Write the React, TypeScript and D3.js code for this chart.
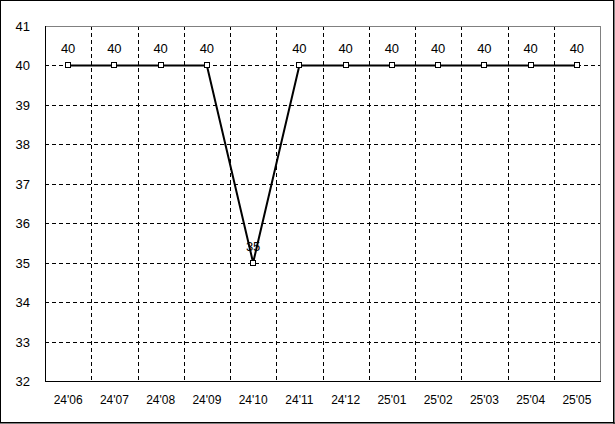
import React from "react";
import * as d3 from "d3";

const categories = ["24'06", "24'07", "24'08", "24'09", "24'10", "24'11", "24'12", "25'01", "25'02", "25'03", "25'04", "25'05"];
const values = [40, 40, 40, 40, 35, 40, 40, 40, 40, 40, 40, 40];
const yTicks = [32, 33, 34, 35, 36, 37, 38, 39, 40, 41];

const W = 615;
const H = 424;
const left = 45, right = 600, top = 26, bottom = 381;
const font = "'Liberation Sans', Arial, sans-serif";

export default function App() {
  const x = d3.scaleBand<string>().domain(categories).range([left, right]);
  const y = d3.scaleLinear().domain([32, 41]).range([bottom, top]);
  const cx = (c: string) => (x(c) as number) + x.bandwidth() / 2;
  const line = d3.line<number>()
    .x((_, i) => cx(categories[i]))
    .y((v) => y(v));

  const gridY = yTicks.filter((t) => t !== 32 && t !== 41);
  const gridX = categories.slice(1).map((c) => Math.round(x(c) as number) + 0.5);

  return (
    <div style={{ position: "fixed", left: 0, top: 0 }}>
      <svg width={W} height={H} style={{ display: "block", background: "#fff" }}>
        <rect x={0.5} y={0.5} width={W - 2} height={H - 2} fill="#fff" stroke="#000" strokeWidth={1} />
        <line x1={W - 1} y1={0} x2={W - 1} y2={H} stroke="#000" />
        <line x1={0} y1={H - 1} x2={W} y2={H - 1} stroke="#000" />
        {gridY.map((t) => (
          <line key={"gy" + t} x1={left} x2={right} y1={Math.round(y(t)) + 0.5} y2={Math.round(y(t)) + 0.5}
            stroke="#000" strokeWidth={1} strokeDasharray="4,3" />
        ))}
        {gridX.map((gx, i) => (
          <line key={"gx" + i} x1={gx} x2={gx} y1={top} y2={bottom} stroke="#000" strokeWidth={1} strokeDasharray="4,3" />
        ))}
        <line x1={left} x2={right + 0.5} y1={top + 0.5} y2={top + 0.5} stroke="#808080" />
        <line x1={right + 0.5} x2={right + 0.5} y1={top} y2={bottom} stroke="#808080" />
        <line x1={left + 0.5} x2={left + 0.5} y1={top} y2={bottom + 0.5} stroke="#000" />
        <line x1={left} x2={right + 1} y1={bottom + 0.5} y2={bottom + 0.5} stroke="#000" />
        {yTicks.map((t) => (
          <text key={"yl" + t} x={30} y={y(t) + 5} textAnchor="end" fontFamily={font} fontSize={13} fill="#000">{t}</text>
        ))}
        {categories.map((c) => (
          <text key={"xl" + c} x={cx(c)} y={404} textAnchor="middle" fontFamily={font} fontSize={12} fill="#000">{c}</text>
        ))}
        <path d={line(values) as string} fill="none" stroke="#000" strokeWidth={2} />
        {values.map((v, i) => (
          <rect key={"m" + i} x={Math.round(cx(categories[i])) - 2.5} y={Math.round(y(v)) - 2.5} width={5} height={5}
            fill="#fff" stroke="#000" strokeWidth={1} />
        ))}
        {values.map((v, i) => (
          <text key={"dl" + i} x={cx(categories[i])} y={y(v) - 12} textAnchor="middle" fontFamily={font} fontSize={13} fill="#000">{v}</text>
        ))}
      </svg>
    </div>
  );
}
